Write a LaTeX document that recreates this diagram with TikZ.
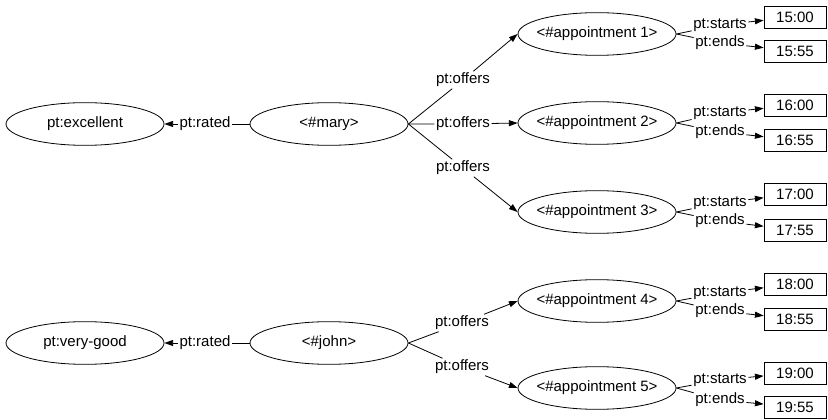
\documentclass[tikz,border=0pt]{standalone}
\usepackage{fontspec}
\setmainfont{Liberation Sans}
\usetikzlibrary{arrows.meta,shapes.geometric}
\begin{document}
\begin{tikzpicture}[x=0.75pt,y=-0.75pt,line width=0.6pt,
  font=\fontsize{11.25}{13}\selectfont,
  res/.style={draw,ellipse,minimum width=118.5pt,minimum height=32pt,inner xsep=-6pt,inner ysep=0pt},
  lit/.style={draw,rectangle,minimum width=46.5pt,minimum height=16.5pt,inner sep=0pt},
  lbl/.style={inner sep=1pt},
  arr/.style={-{Triangle[length=6.5pt,width=4.5pt]}}]
\useasboundingbox (0,0) rectangle (828,420);

\node[res] (exc) at (85,124) {pt:excellent};
\node[res] (mary) at (329,124) {<\#mary>};
\node[lbl] (r1) at (205,124) {pt:rated};
\node[res] (good) at (85,343) {pt:very-good};
\node[res] (john) at (329,343) {<\#john>};
\node[lbl] (r2) at (205,343) {pt:rated};

\node[res] (a1) at (597,34) {<\#appointment 1>};
\node[res] (a2) at (597,123) {<\#appointment 2>};
\node[res] (a3) at (597,212) {<\#appointment 3>};
\node[res] (a4) at (597,301) {<\#appointment 4>};
\node[res] (a5) at (597,388) {<\#appointment 5>};

\node[lbl] (o1) at (463,80) {pt:offers};
\node[lbl] (o2) at (463,124) {pt:offers};
\node[lbl] (o3) at (463,168) {pt:offers};
\node[lbl] (o4) at (462,323) {pt:offers};
\node[lbl] (o5) at (462,367) {pt:offers};

\node[lbl] (s1) at (720,25) {pt:starts};
\node[lbl] (e1) at (720,43) {pt:ends};
\node[lbl] (s2) at (720,113) {pt:starts};
\node[lbl] (e2) at (720,132) {pt:ends};
\node[lbl] (s3) at (720,203) {pt:starts};
\node[lbl] (e3) at (720,221) {pt:ends};
\node[lbl] (s4) at (720,293) {pt:starts};
\node[lbl] (e4) at (720,311) {pt:ends};
\node[lbl] (s5) at (720,380) {pt:starts};
\node[lbl] (e5) at (720,400) {pt:ends};

\node[lit] (t1) at (795,17) {15:00};
\node[lit] (u1) at (795,51) {15:55};
\node[lit] (t2) at (795,105) {16:00};
\node[lit] (u2) at (795,140) {16:55};
\node[lit] (t3) at (795,194) {17:00};
\node[lit] (u3) at (795,230) {17:55};
\node[lit] (t4) at (795,284) {18:00};
\node[lit] (u4) at (795,319) {18:55};
\node[lit] (t5) at (795,373) {19:00};
\node[lit] (u5) at (795,407) {19:55};

\draw[arr] (mary.west) -- (r1) -- (exc);
\draw[arr] (john.west) -- (r2) -- (good);

\draw[arr] (mary.east) -- (o1) -- (a1.west);
\draw[arr] (mary.east) -- (o2) -- (a2.west);
\draw[arr] (mary.east) -- (o3) -- (a3.west);
\draw[arr] (john.east) -- (o4) -- (a4.west);
\draw[arr] (john.east) -- (o5) -- (a5.west);

\draw[arr] (a1.east) -- (s1) -- (t1);
\draw[arr] (a1.east) -- (e1) -- (u1);
\draw[arr] (a2.east) -- (s2) -- (t2);
\draw[arr] (a2.east) -- (e2) -- (u2);
\draw[arr] (a3.east) -- (s3) -- (t3);
\draw[arr] (a3.east) -- (e3) -- (u3);
\draw[arr] (a4.east) -- (s4) -- (t4);
\draw[arr] (a4.east) -- (e4) -- (u4);
\draw[arr] (a5.east) -- (s5) -- (t5);
\draw[arr] (a5.east) -- (e5) -- (u5);
\end{tikzpicture}
\end{document}
